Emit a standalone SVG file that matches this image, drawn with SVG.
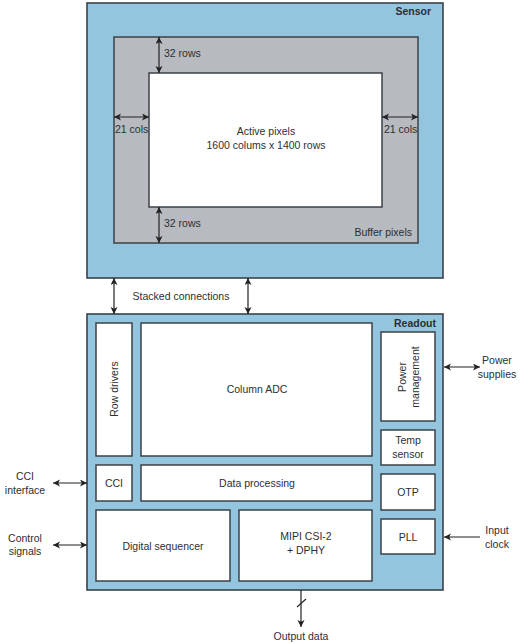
<svg xmlns="http://www.w3.org/2000/svg" width="522" height="644" viewBox="0 0 522 644">
<defs>
<style>
text{font-family:"Liberation Sans",Arial,sans-serif;font-size:10.5px;fill:#2b2f33}
.c{text-anchor:middle}
.b{font-weight:bold;text-anchor:end}
.outer{fill:#93c5de;stroke:#3c4248;stroke-width:1.6}
.buf{fill:#b7babe;stroke:#3c4248;stroke-width:1.5}
.box{fill:#ffffff;stroke:#3c4248;stroke-width:1.5}
.ar{stroke:#222;stroke-width:1.2;fill:none}
</style>
<marker id="ah" markerUnits="userSpaceOnUse" markerWidth="8" markerHeight="8" refX="7" refY="3.5" orient="auto-start-reverse">
<path d="M0,0 L7,3.5 L0,7 L1.8,3.5 z" fill="#222"/>
</marker>
</defs>

<g id="sensor">
<rect class="outer" x="87" y="3" width="356" height="275"/>
<text class="b" x="431" y="15">Sensor</text>
</g>
<g id="buffer">
<rect class="buf" x="114" y="37" width="304" height="206"/>
<text style="text-anchor:end" x="412" y="236">Buffer pixels</text>
</g>
<g id="active">
<rect class="box" x="149" y="73" width="233" height="134"/>
<text class="c" x="266" y="135">Active pixels</text>
<text class="c" x="266" y="149">1600 colums x 1400 rows</text>
</g>
<g id="dim-labels">
<text x="164" y="57">32 rows</text>
<text x="164" y="227">32 rows</text>
<text x="115" y="133">21 cols</text>
<text x="384" y="133">21 cols</text>
</g>

<g id="readout">
<rect class="outer" x="87" y="314" width="356" height="276"/>
<text class="b" x="436" y="327">Readout</text>
</g>
<g id="row-drivers">
<rect class="box" x="96" y="323" width="36" height="133"/>
<text class="c" transform="translate(118,389) rotate(-90)">Row drivers</text>
</g>
<g id="column-adc">
<rect class="box" x="141" y="323" width="231" height="133"/>
<text class="c" x="257" y="393">Column ADC</text>
</g>
<g id="power-management">
<rect class="box" x="381" y="332" width="54" height="89"/>
<text class="c" transform="translate(406,377) rotate(-90)">Power</text>
<text class="c" transform="translate(419,377) rotate(-90)">management</text>
</g>
<g id="temp-sensor">
<rect class="box" x="381" y="430" width="54" height="35"/>
<text class="c" x="408" y="444">Temp</text>
<text class="c" x="408" y="458">sensor</text>
</g>
<g id="cci">
<rect class="box" x="96" y="465" width="36" height="36"/>
<text class="c" x="114" y="487">CCI</text>
</g>
<g id="data-processing">
<rect class="box" x="141" y="465" width="231" height="36"/>
<text class="c" x="257" y="487">Data processing</text>
</g>
<g id="otp">
<rect class="box" x="381" y="474" width="54" height="36"/>
<text class="c" x="408" y="496">OTP</text>
</g>
<g id="pll">
<rect class="box" x="381" y="519" width="54" height="35"/>
<text class="c" x="408" y="541">PLL</text>
</g>
<g id="digital-sequencer">
<rect class="box" x="96" y="510" width="134" height="71"/>
<text class="c" x="163" y="550">Digital sequencer</text>
</g>
<g id="mipi">
<rect class="box" x="239" y="510" width="133" height="71"/>
<text class="c" x="306" y="540">MIPI CSI-2</text>
<text class="c" x="306" y="554">+ DPHY</text>
</g>

<g id="external-labels">
<text class="c" x="181" y="300">Stacked connections</text>
<text class="c" x="497" y="364">Power</text>
<text class="c" x="497" y="378">supplies</text>
<text class="c" x="25" y="480">CCI</text>
<text class="c" x="25" y="494">interface</text>
<text class="c" x="25" y="542">Control</text>
<text class="c" x="25" y="555">signals</text>
<text class="c" x="497" y="534">Input</text>
<text class="c" x="497" y="548">clock</text>
<text class="c" x="301" y="640">Output data</text>
</g>

<g id="connectors">
<line class="ar" x1="159" y1="37" x2="159" y2="73" marker-start="url(#ah)" marker-end="url(#ah)"/>
<line class="ar" x1="159" y1="207" x2="159" y2="243" marker-start="url(#ah)" marker-end="url(#ah)"/>
<line class="ar" x1="114" y1="117" x2="149" y2="117" marker-start="url(#ah)" marker-end="url(#ah)"/>
<line class="ar" x1="382" y1="117" x2="418" y2="117" marker-start="url(#ah)" marker-end="url(#ah)"/>
<line class="ar" x1="114" y1="278" x2="114" y2="314" marker-start="url(#ah)" marker-end="url(#ah)"/>
<line class="ar" x1="248" y1="278" x2="248" y2="314" marker-start="url(#ah)" marker-end="url(#ah)"/>
<line class="ar" x1="444" y1="367" x2="480" y2="367" marker-start="url(#ah)" marker-end="url(#ah)"/>
<line class="ar" x1="53" y1="483" x2="87" y2="483" marker-start="url(#ah)" marker-end="url(#ah)"/>
<line class="ar" x1="53" y1="545" x2="87" y2="545" marker-start="url(#ah)" marker-end="url(#ah)"/>
<line class="ar" x1="480" y1="537" x2="444" y2="537" marker-end="url(#ah)"/>
<line class="ar" x1="301" y1="590" x2="301" y2="627" marker-end="url(#ah)"/>
<line class="ar" x1="297" y1="607" x2="306" y2="599"/>
</g>
</svg>
